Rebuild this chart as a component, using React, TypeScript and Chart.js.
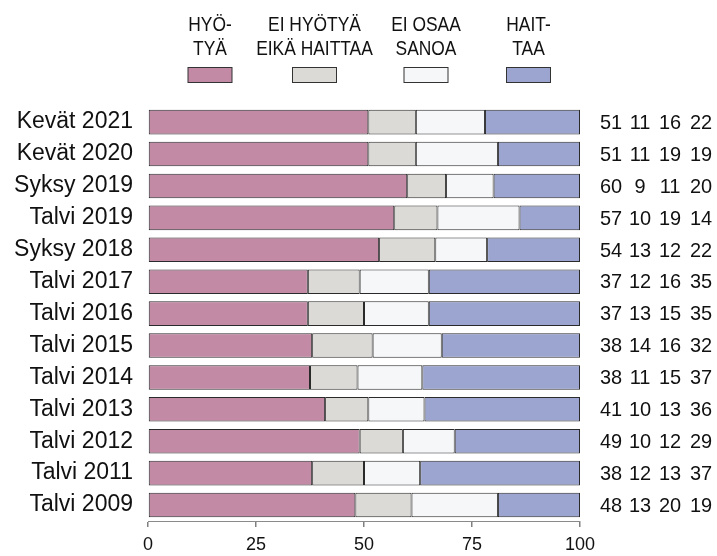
import React, { useEffect, useRef } from "react";
import { Chart, registerables } from "chart.js";

Chart.register(...registerables);

const categories = [
  "Kevät 2021",
  "Kevät 2020",
  "Syksy 2019",
  "Talvi 2019",
  "Syksy 2018",
  "Talvi 2017",
  "Talvi 2016",
  "Talvi 2015",
  "Talvi 2014",
  "Talvi 2013",
  "Talvi 2012",
  "Talvi 2011",
  "Talvi 2009",
];

const hyotya = [51, 51, 60, 57, 53.5, 37, 37, 38, 37.5, 41, 49, 38, 48];
const eiHyotyaEikaHaittaa = [11, 11, 9, 10, 13, 12, 13, 14, 11, 10, 10, 12, 13];
const eiOsaaSanoa = [16, 19, 11, 19, 12, 16, 15, 16, 15, 13, 12, 13, 20];
const haittaa = [22, 19, 20, 14, 21.5, 35, 35, 32, 36.5, 36, 29, 37, 19];

const seriesNames = ["HYÖTYÄ", "EI HYÖTYÄ EIKÄ HAITTAA", "EI OSAA SANOA", "HAITTAA"];
const legendLines = [
  ["HYÖ-", "TYÄ"],
  ["EI HYÖTYÄ", "EIKÄ HAITTAA"],
  ["EI OSAA", "SANOA"],
  ["HAIT-", "TAA"],
];
const seriesColors = ["#C38AA6", "#DBDAD7", "#F6F7F9", "#9BA5D0"];
const xTickValues = [0, 25, 50, 75, 100];

const FONT = '"Liberation Sans", Arial, sans-serif';
const TEXT = "#111111";

const legendCenters = [210, 314.5, 426, 528.5];
const numberColumns = [611, 640, 670, 701];

const overlayPlugin = {
  id: "overlay",
  afterDraw(chart: any) {
    const ctx = chart.ctx as CanvasRenderingContext2D;
    const yScale = chart.scales.y;
    const allSeries = [hyotya, eiHyotyaEikaHaittaa, eiOsaaSanoa, haittaa];
    ctx.save();
    ctx.fillStyle = TEXT;
    ctx.textBaseline = "middle";
    ctx.textAlign = "center";
    ctx.font = `21px ${FONT}`;
    categories.forEach((_, i) => {
      const py = yScale.getPixelForValue(i) + 1;
      allSeries.forEach((s, j) => {
        ctx.save();
        ctx.translate(numberColumns[j], py);
        ctx.scale(0.95, 1);
        ctx.fillText(String(Math.round(s[i])), 0, 0);
        ctx.restore();
      });
    });
    // legend
    ctx.font = `20px ${FONT}`;
    ctx.textBaseline = "alphabetic";
    legendLines.forEach((lines, j) => {
      const cx = legendCenters[j];
      lines.forEach((line, k) => {
        ctx.save();
        ctx.translate(cx, 31 + k * 23.5);
        ctx.scale(0.87, 1);
        ctx.fillStyle = TEXT;
        ctx.fillText(line, 0, 0);
        ctx.restore();
      });
      ctx.fillStyle = seriesColors[j];
      ctx.fillRect(cx - 22, 67.5, 44, 15);
      ctx.strokeStyle = "#333333";
      ctx.lineWidth = 1;
      ctx.strokeRect(cx - 22, 67.5, 44, 15);
    });
    ctx.restore();
  },
};

export default function App() {
  const ref = useRef<HTMLCanvasElement | null>(null);
  useEffect(() => {
    if (!ref.current) return;
    const allSeries = [hyotya, eiHyotyaEikaHaittaa, eiOsaaSanoa, haittaa];
    const chart = new Chart(ref.current, {
      type: "bar",
      data: {
        labels: categories,
        datasets: allSeries.map((s, j) => ({
          label: seriesNames[j],
          data: s,
          backgroundColor: seriesColors[j],
          borderColor: "#2a2a2a",
          borderWidth: 1,
          borderSkipped: false,
          barPercentage: 0.77,
          categoryPercentage: 1,
        })),
      },
      options: {
        indexAxis: "y",
        responsive: false,
        animation: false,
        layout: { padding: { top: 106.2, right: 137, left: 0, bottom: 0 } },
        plugins: {
          legend: { display: false },
          tooltip: { enabled: false },
          title: { display: false },
        },
        scales: {
          x: {
            stacked: true,
            min: 0,
            max: 100,
            afterBuildTicks: (axis: any) => {
              axis.ticks = xTickValues.map((v) => ({ value: v }));
            },
            afterFit: (axis: any) => {
              axis.height = 35;
            },
            grid: {
              drawOnChartArea: false,
              drawTicks: true,
              tickLength: 6,
              color: "#808080",
              lineWidth: 1.5,
            },
            border: { display: true, color: "#8a8a8a", width: 1 },
            ticks: {
              color: TEXT,
              padding: 7,
              maxRotation: 0,
              font: { family: FONT, size: 18 },
            },
          },
          y: {
            stacked: true,
            afterFit: (axis: any) => {
              axis.width = 148;
            },
            grid: { display: false, drawTicks: false },
            border: { display: false },
            ticks: {
              color: TEXT,
              padding: 15,
              font: { family: FONT, size: 23 },
            },
          },
        },
      },
      plugins: [overlayPlugin],
    } as any);
    return () => chart.destroy();
  }, []);
  return (
    <div style={{ position: "fixed", left: 0, top: 0, width: 717, height: 556, background: "#ffffff" }}>
      <canvas ref={ref} width={717} height={556} style={{ width: 717, height: 556, display: "block" }} />
    </div>
  );
}
